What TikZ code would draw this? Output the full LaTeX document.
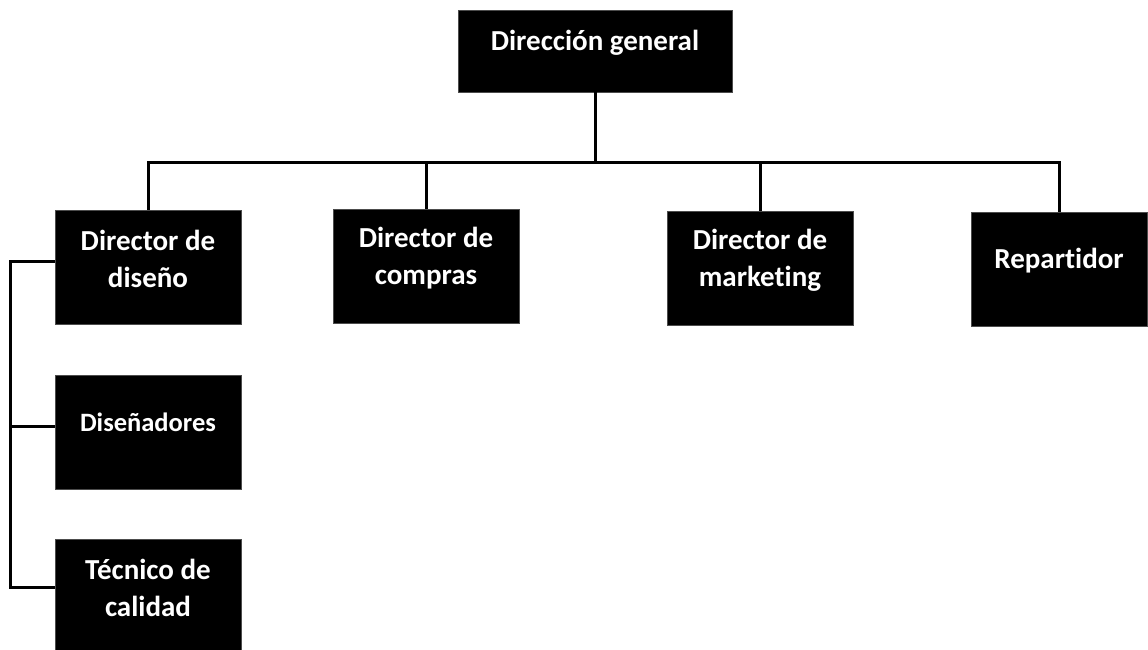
\documentclass[tikz,border=0pt]{standalone}
\usepackage{fontspec}
\setmainfont{Carlito}[Ligatures=NoCommon]
\usetikzlibrary{calc}
\usetikzlibrary{positioning}

\tikzset{
    puesto/.style={fill=black, draw=black!70, minimum width=186pt, minimum height=114pt, inner sep=0pt},
    rotulo/.style={text=white, font=\bfseries\fontsize{29}{37}\selectfont, align=center, yshift=8pt},
    enlace/.style={line width=3pt}
}

\begin{document}
\begin{tikzpicture}
    \useasboundingbox (0,0) rectangle (1148pt,-650pt);

    \node[puesto, minimum width=274pt, minimum height=82pt, label={[rotulo]center:{Dirección general}}] (general) at (595pt,-51pt) {};

    \node[puesto, label={[rotulo]center:{Director de\\diseño}}] (diseno) at (148pt,-267pt) {};
    \node[puesto, label={[rotulo]center:{Director de\\compras}}] (compras) at (426pt,-266pt) {};
    \node[puesto, label={[rotulo]center:{Director de\\marketing}}] (marketing) at (760pt,-268pt) {};
    \node[puesto, minimum width=176pt, label={[rotulo]center:{Repartidor}}] (repartidor) at (1059pt,-269pt) {};

    \node[puesto, below=51pt of diseno, label={[rotulo, font=\bfseries\fontsize{26.5}{37}\selectfont, yshift=2pt]center:{Diseñadores}}] (disenadores) {};
    \node[puesto, below=49pt of disenadores, label={[rotulo]center:{Técnico de\\calidad}}] (tecnico) {};

    % bus under the top box
    \coordinate (bus) at (0,-162pt);
    \draw[enlace] (general.south) -- (general.south |- bus);
    \draw[enlace] (diseno.north) |- (repartidor.north |- bus) -- (repartidor.north);
    \foreach \n in {compras, marketing}
        \draw[enlace] (\n.north) -- (\n.north |- bus);

    % left bracket for the design team
    \coordinate (margen) at (10pt,0);
    \coordinate (dis in) at ([yshift=6pt]diseno.west);
    \coordinate (dsn in) at ([yshift=6pt]disenadores.west);
    \coordinate (tec in) at ([yshift=8pt]tecnico.west);
    \draw[enlace] (dis in) -| (margen |- tec in) -- (tec in);
    \draw[enlace] (margen |- dsn in) -- (dsn in);
\end{tikzpicture}
\end{document}
